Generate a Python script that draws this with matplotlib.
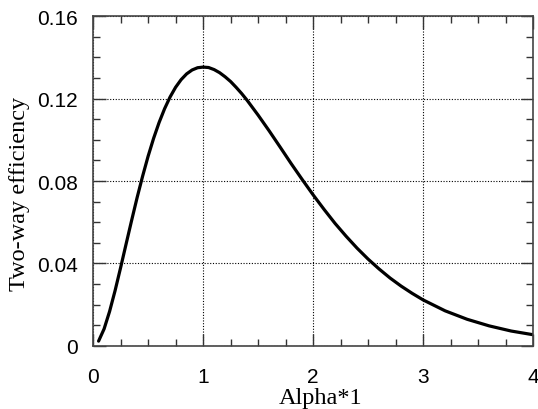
import matplotlib
matplotlib.use("Agg")
import matplotlib.pyplot as plt
from matplotlib.ticker import MultipleLocator

# values
alpha_l = [0.05, 0.1, 0.15, 0.2, 0.25, 0.3, 0.35, 0.4, 0.45, 0.5, 0.55, 0.6,
           0.65, 0.7, 0.75, 0.8, 0.85, 0.9, 0.95, 1.0, 1.05, 1.1, 1.15, 1.2,
           1.25, 1.3, 1.35, 1.4, 1.5, 1.6, 1.7, 1.8, 1.9, 2.0, 2.1, 2.2, 2.3,
           2.4, 2.5, 2.6, 2.7, 2.8, 2.9, 3.0, 3.2, 3.4, 3.6, 3.8, 4.0]
efficiency = [0.0023, 0.0082, 0.0167, 0.0268, 0.0379, 0.0494, 0.0608, 0.0719,
              0.0823, 0.0920, 0.1007, 0.1084, 0.1151, 0.1208, 0.1255, 0.1292,
              0.1320, 0.1339, 0.1350, 0.1353, 0.1351, 0.1341, 0.1326, 0.1306,
              0.1283, 0.1255, 0.1225, 0.1192, 0.1120, 0.1044, 0.0965, 0.0885,
              0.0808, 0.0733, 0.0662, 0.0594, 0.0532, 0.0474, 0.0421, 0.0373,
              0.0329, 0.0290, 0.0255, 0.0223, 0.0170, 0.0129, 0.0097, 0.0072,
              0.0054]

x_ticks = [0, 1, 2, 3, 4]
y_ticks = [0, 0.04, 0.08, 0.12, 0.16]
y_tick_labels = ["0", "0.04", "0.08", "0.12", "0.16"]

fig = plt.figure(figsize=(5.38, 4.10), dpi=100)
ax = fig.add_axes([0.173, 0.154, 0.818, 0.804])

ax.plot(alpha_l, efficiency, color="black", linewidth=2.3, solid_capstyle="round",
        solid_joinstyle="round")

ax.set_xlim(0, 4)
ax.set_ylim(0, 0.16)
ax.set_xticks(x_ticks)
ax.set_xticklabels([str(t) for t in x_ticks])
ax.set_yticks(y_ticks)
ax.set_yticklabels(y_tick_labels)
ax.xaxis.set_minor_locator(MultipleLocator(0.25))
ax.yaxis.set_minor_locator(MultipleLocator(0.01))

ax.grid(True, which="major", linestyle=(0, (1, 1.5)), color="black", linewidth=0.8)
ax.tick_params(which="both", direction="in", top=True, right=True, width=1.0,
               colors="#333333", labelcolor="black")
ax.tick_params(which="major", length=9, labelsize=15)
ax.tick_params(axis="x", which="major", pad=15)
ax.tick_params(axis="y", which="major", pad=11)
ax.tick_params(which="minor", length=5)
for lab in ax.get_xticklabels() + ax.get_yticklabels():
    lab.set_family("Liberation Sans")

for sp in ax.spines.values():
    sp.set_linewidth(1.2)
    sp.set_color("#444444")

ax.set_xlabel("Alpha*1", family="Liberation Serif", fontsize=17.5)
ax.set_ylabel("Two-way efficiency", family="Liberation Serif", fontsize=17.5)
ax.xaxis.set_label_coords(0.518, -0.126)
ax.yaxis.set_label_coords(-0.143, 0.465)

fig.savefig("out.png", dpi=100)
